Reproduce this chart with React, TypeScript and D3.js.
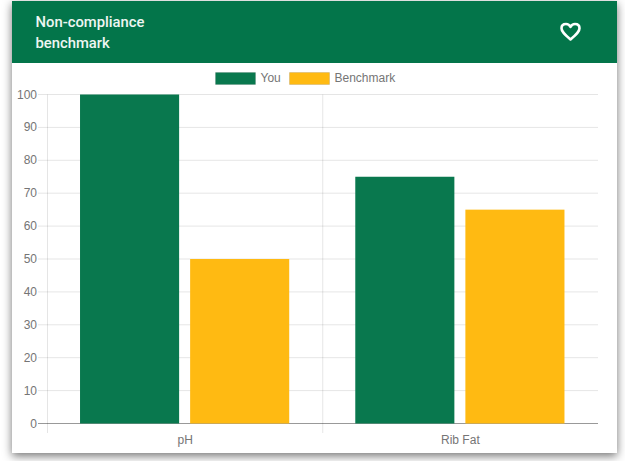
import * as d3 from "d3";

const categories = ["pH", "Rib Fat"];
const seriesNames = ["You", "Benchmark"];
const youValues = [100, 75];
const benchmarkValues = [50, 65];
const yTicks = [0, 10, 20, 30, 40, 50, 60, 70, 80, 90, 100];
const titleLines = ["Non-compliance", "benchmark"];

const colors = ["#09784e", "#ffba12"];
const labelFont = "'Liberation Sans', Arial, sans-serif";
const labelColor = "#757575";

export default function App() {
  const plot = { left: 47.5, right: 598, top: 94.5, bottom: 423.5 };

  const xScale = d3
    .scaleBand()
    .domain(categories)
    .range([plot.left, plot.right]);
  const bw = xScale.bandwidth();

  // chart.js style grouping: 80% category, 90% bar
  const seriesScale = d3
    .scaleBand()
    .domain(seriesNames)
    .range([bw * 0.1 - 0.5, bw * 0.9 - 0.5])
    .paddingInner(0.1)
    .paddingOuter(0.05);

  const yScale = d3
    .scaleLinear()
    .domain([0, 100])
    .range([plot.bottom, plot.top]);

  const seriesValues = [youValues, benchmarkValues];
  const gridLines = [plot.left, plot.left + bw];

  return (
    <svg
      width={625}
      height={461}
      style={{ position: "absolute", left: 0, top: 0, background: "#fff" }}
    >
      <defs>
        <filter id="cardShadow" x="-5%" y="-5%" width="110%" height="112%">
          <feDropShadow dx="0" dy="3" stdDeviation="5" floodColor="#000" floodOpacity="0.55" />
        </filter>
      </defs>

      {/* Card */}
      <rect x={12} y={1} width={605} height={452} fill="#fff" filter="url(#cardShadow)" />
      <rect x={12} y={1} width={605} height={62} fill="#03754a" />
      {titleLines.map((line, i) => (
        <text
          key={line}
          x={35.5}
          y={26.5 + i * 21.5}
          fontFamily="Roboto, sans-serif"
          fontWeight={500}
          fontSize={14.8}
          fill="#eef6f2"
        >
          {line}
        </text>
      ))}
      <path
        d="M570.5 39.5 C 564 34, 561.5 31.5, 561.5 28.2 C 561.5 25.4, 563.6 24, 566 24 C 568 24, 569.6 25, 570.5 26.8 C 571.4 25, 573 24, 575 24 C 577.4 24, 579.5 25.4, 579.5 28.2 C 579.5 31.5, 577 34, 570.5 39.5 Z"
        fill="none"
        stroke="#fff"
        strokeWidth={2.6}
        strokeLinejoin="round"
      />

      {/* Legend */}
      {seriesNames.map((name, i) => {
        const boxX = [215.5, 289.5][i];
        return (
          <g key={name}>
            <rect
              x={boxX}
              y={72.5}
              width={40}
              height={12}
              fill={colors[i]}
              stroke="rgba(0,0,0,0.1)"
              strokeWidth={1}
            />
            <text
              x={boxX + 45}
              y={82}
              fontFamily={labelFont}
              fontSize={12}
              fill={labelColor}
            >
              {name}
            </text>
          </g>
        );
      })}

      {/* Horizontal grid and y ticks */}
      {yTicks.map((tick) => (
        <g key={tick}>
          <line
            x1={38}
            x2={plot.right}
            y1={yScale(tick)}
            y2={yScale(tick)}
            stroke={tick === 0 ? "rgba(0,0,0,0.4)" : "rgba(0,0,0,0.1)"}
          />
          <text
            x={37}
            y={yScale(tick) + 4}
            textAnchor="end"
            fontFamily={labelFont}
            fontSize={12}
            fill={labelColor}
          >
            {tick}
          </text>
        </g>
      ))}

      {/* Vertical grid */}
      {gridLines.map((x) => (
        <line
          key={x}
          x1={x}
          x2={x}
          y1={plot.top}
          y2={433}
          stroke="rgba(0,0,0,0.1)"
        />
      ))}

      {/* Bars */}
      {categories.map((cat, c) =>
        seriesNames.map((name, s) => (
          <rect
            key={`${cat}-${name}`}
            x={(xScale(cat) || 0) + (seriesScale(name) || 0)}
            y={yScale(seriesValues[s][c])}
            width={seriesScale.bandwidth()}
            height={plot.bottom - yScale(seriesValues[s][c])}
            fill={colors[s]}
          />
        ))
      )}

      {/* Category labels */}
      {categories.map((cat) => (
        <text
          key={cat}
          x={(xScale(cat) || 0) + bw / 2}
          y={444}
          textAnchor="middle"
          fontFamily={labelFont}
          fontSize={12}
          fill={labelColor}
        >
          {cat}
        </text>
      ))}
    </svg>
  );
}
